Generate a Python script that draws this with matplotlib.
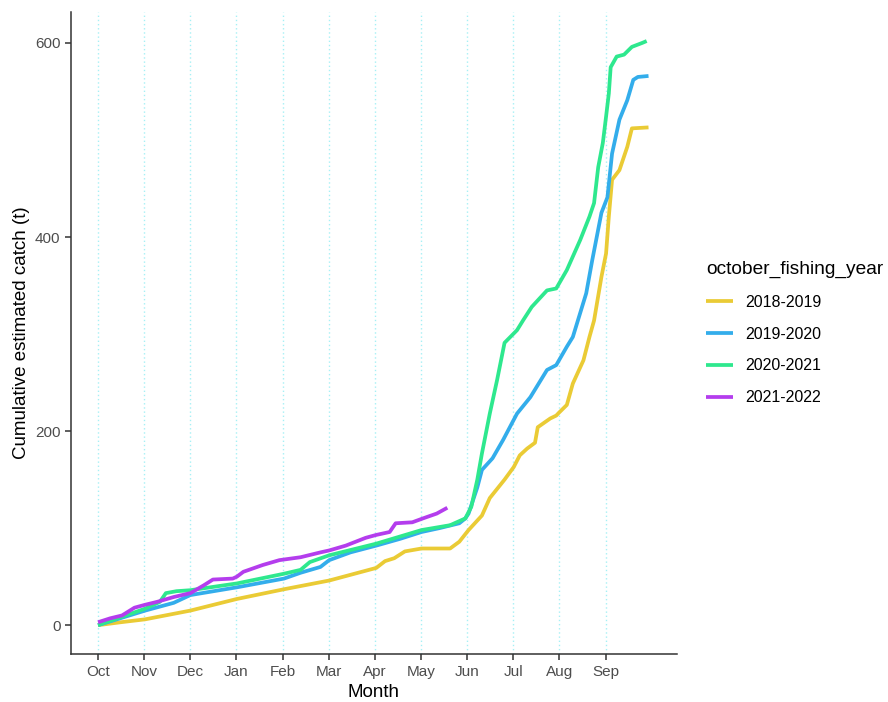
import matplotlib.pyplot as plt

plt.rcParams["font.family"] = ["Liberation Sans", "DejaVu Sans"]

# x is months since the start of the fishing year (0 = October)
month_labels = ["Oct", "Nov", "Dec", "Jan", "Feb", "Mar", "Apr", "May", "Jun", "Jul", "Aug", "Sep"]

years = ["2018-2019", "2019-2020", "2020-2021", "2021-2022"]
colors = ["#EACB35", "#33ADEB", "#2EE88E", "#B43DED"]

month_1819 = [0, 0.49, 1.02, 2.00, 3.01, 4.03, 5.01, 6.03, 6.22, 6.42, 6.65, 7.01, 7.63, 7.83,
              8.03, 8.32, 8.49, 8.81, 9.01, 9.14, 9.30, 9.47, 9.53, 9.80, 9.93, 9.99, 10.16,
              10.29, 10.52, 10.65, 10.75, 10.91, 11.01, 11.07, 11.14, 11.30, 11.47, 11.57, 11.93]
catch_1819 = [0, 3, 6, 15, 27, 37, 46, 59, 66, 69, 76, 79, 79, 86,
              98, 113, 131, 150, 163, 175, 182, 188, 204, 213, 216, 219, 227,
              249, 273, 297, 314, 359, 383, 421, 459, 469, 493, 512, 513]

month_1920 = [0, 1.02, 1.64, 2.00, 3.01, 4.03, 4.39, 4.82, 5.01, 5.47, 6.03, 6.55, 7.01, 7.40,
              7.83, 7.96, 8.03, 8.22, 8.32, 8.55, 8.78, 9.08, 9.37, 9.73, 9.93, 10.16, 10.29,
              10.58, 10.71, 10.91, 11.04, 11.14, 11.30, 11.47, 11.60, 11.70, 11.93]
catch_1920 = [0, 15, 23, 31, 39, 48, 54, 60, 67, 75, 82, 89, 96, 100,
              105, 110, 115, 142, 160, 172, 191, 218, 235, 263, 268, 287, 297,
              342, 376, 425, 441, 486, 521, 541, 562, 565, 566]

month_2021 = [0, 1.02, 1.34, 1.47, 1.70, 2.00, 3.01, 4.03, 4.39, 4.59, 5.01, 6.03, 7.01, 7.63,
              7.96, 8.09, 8.22, 8.32, 8.49, 8.65, 8.81, 9.08, 9.21, 9.40, 9.73, 9.93, 10.16,
              10.45, 10.65, 10.75, 10.84, 10.94, 11.01, 11.07, 11.11, 11.24, 11.40, 11.57,
              11.79, 11.89]
catch_2021 = [0, 17, 24, 33, 35, 36, 43, 53, 57, 65, 72, 84, 98, 103,
              110, 122, 150, 177, 218, 253, 291, 304, 314, 328, 345, 347, 366,
              397, 421, 435, 472, 497, 524, 548, 575, 586, 588, 596,
              600, 602]

month_2122 = [0, 0.26, 0.52, 0.79, 1.02, 1.28, 1.64, 2.00, 2.29, 2.49, 2.92, 3.01, 3.15, 3.57,
              3.93, 4.39, 4.82, 5.01, 5.37, 5.80, 6.03, 6.32, 6.45, 6.81, 7.04, 7.34, 7.57]
catch_2122 = [3, 7, 10, 18, 21, 24, 29, 33, 41, 47, 48, 50, 55, 62,
              67, 70, 75, 77, 82, 90, 93, 96, 105, 106, 110, 115, 121]

series = [(month_1819, catch_1819), (month_1920, catch_1920),
          (month_2021, catch_2021), (month_2122, catch_2122)]

month_ticks = list(range(len(month_labels)))

fig = plt.figure(figsize=(8.88, 7.02), dpi=100)
ax = fig.add_axes([0.080, 0.068, 0.682, 0.915])

for x in month_ticks:
    ax.axvline(x, color="#A6F0F5", linestyle=(0, (1, 2)), linewidth=1.0, zorder=0)

for (m, c), year, col in zip(series, years, colors):
    ax.plot(m, c, color=col, linewidth=2.7, label=year, solid_joinstyle="round",
            solid_capstyle="butt")

ax.set_xlim(-0.585, 12.54)
ax.set_ylim(-30, 632)
ax.set_xticks(month_ticks)
ax.set_xticklabels(month_labels)
ax.set_yticks([0, 200, 400, 600])

for side in ["top", "right"]:
    ax.spines[side].set_visible(False)
for side in ["left", "bottom"]:
    ax.spines[side].set_color("#333333")
    ax.spines[side].set_linewidth(1.1)
ax.tick_params(axis="both", colors="#333333", labelcolor="#4D4D4D", labelsize=11,
               length=4, width=1.1)

ax.set_xlabel("Month", fontsize=13.5, labelpad=4)
ax.set_ylabel("Cumulative estimated catch (t)", fontsize=13.5, labelpad=4)

leg = ax.legend(title="october_fishing_year", loc="center left", bbox_to_anchor=(1.025, 0.50),
                frameon=False, fontsize=11.5, title_fontsize=13.8, handlelength=1.7,
                handletextpad=0.75, labelspacing=1.05)
leg._legend_box.align = "left"

fig.savefig("out.png", dpi=100)
